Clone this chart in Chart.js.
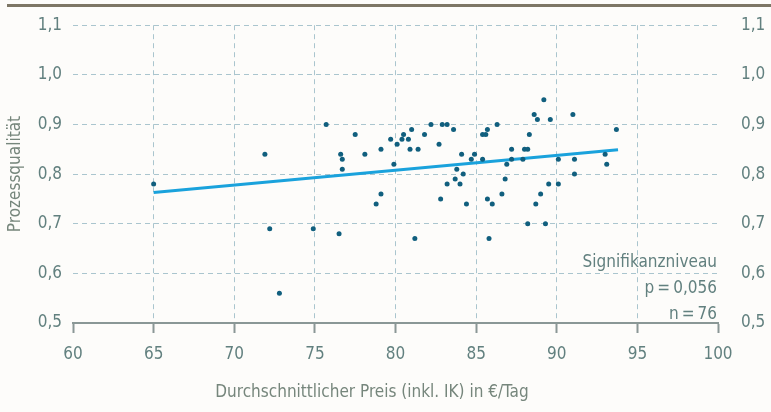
<!DOCTYPE html>
<html>
<head>
<meta charset="utf-8">
<script src="https://cdn.jsdelivr.net/npm/chart.js@4"></script>
<style>
  html, body { margin: 0; padding: 0; background: #fdfcfa; }
  #wrap { width: 771px; height: 412px; position: relative; }
</style>
</head>
<body>
<div id="wrap"><canvas id="chart" width="771" height="412"></canvas></div>
<script>
// Durchschnittlicher Preis (inkl. IK) in €/Tag
const price = [65, 71.9, 72.2, 72.8, 74.9, 75.7, 76.5, 76.6, 76.7, 76.7,
  77.5, 78.1, 78.8, 79.1, 79.1, 79.7, 79.9, 80.1, 80.4, 80.5,
  80.8, 80.9, 81.0, 81.2, 81.4, 81.8, 82.2, 82.7, 82.8, 82.9,
  83.2, 83.2, 83.6, 83.7, 83.8, 84.0, 84.1, 84.2, 84.4, 84.7,
  84.9, 85.4, 85.4, 85.6, 85.7, 85.7, 85.8, 86.0, 86.3, 86.6,
  86.8, 86.9, 87.2, 87.2, 87.9, 88.0, 88.2, 88.2, 88.3, 88.6,
  88.7, 88.8, 89.0, 89.2, 89.3, 89.5, 89.6, 90.1, 90.1, 91.0,
  91.1, 91.1, 93.0, 93.1, 93.7];

// Prozessqualität
const quality = [0.78, 0.84, 0.69, 0.56, 0.69, 0.90, 0.68, 0.84, 0.83, 0.81,
  0.88, 0.84, 0.74, 0.76, 0.85, 0.87, 0.82, 0.86, 0.87, 0.88,
  0.87, 0.85, 0.89, 0.67, 0.85, 0.88, 0.90, 0.86, 0.75, 0.90,
  0.90, 0.78, 0.89, 0.79, 0.81, 0.78, 0.84, 0.80, 0.74, 0.83,
  0.84, 0.83, 0.88, 0.88, 0.89, 0.75, 0.67, 0.74, 0.90, 0.76,
  0.79, 0.82, 0.85, 0.83, 0.83, 0.85, 0.85, 0.70, 0.88, 0.92,
  0.74, 0.91, 0.76, 0.95, 0.70, 0.78, 0.91, 0.78, 0.83, 0.92,
  0.83, 0.80, 0.84, 0.82, 0.89];

// regression line (start / end)
const trendX = [65, 93.8];
const trendY = [0.763, 0.849];

const statLines = ["Signifikanzniveau", "p\u2009=\u20090,056", "n\u2009=\u200976"];

const FONT = "'DejaVu Sans Condensed', 'Liberation Sans Narrow', sans-serif";
const tickColor = "#62807f";
const titleColor = "#76867c";
const gridColor = "#aac5ce";
const axisColor = "#8a9796";

const points = price.map((p, i) => ({ x: p, y: quality[i] }));
const trend = trendX.map((p, i) => ({ x: p, y: trendY[i] }));

const comma = (v) => v.toFixed(1).replace(".", ",");

const extras = {
  id: "extras",
  afterDraw(chart) {
    const ctx = chart.ctx;
    ctx.save();
    // top rule
    ctx.fillStyle = "#7d7665";
    ctx.fillRect(7, 4, 764, 3);

    ctx.fillStyle = titleColor;
    ctx.font = "17px " + FONT;
    ctx.textAlign = "center";
    ctx.textBaseline = "alphabetic";
    ctx.fillText("Durchschnittlicher Preis (inkl. IK) in €/Tag", 372, 397);

    ctx.fillStyle = tickColor;
    ctx.textAlign = "right";
    statLines.forEach((t, i) => {
      ctx.fillText(t, 717, 267 + i * 26);
    });
    ctx.restore();
  },
};

new Chart(document.getElementById("chart"), {
  data: {
    datasets: [
      {
        type: "line",
        data: trend,
        borderColor: "#1aa2dc",
        borderWidth: 3,
        pointRadius: 0,
        fill: false,
        order: 2,
      },
      {
        type: "scatter",
        data: points,
        backgroundColor: "#115f7e",
        borderWidth: 0,
        pointRadius: 2.5,
        order: 1,
      },
    ],
  },
  options: {
    responsive: false,
    animation: false,
    layout: { padding: { top: 21, left: 0, right: 0, bottom: 0 } },
    plugins: { legend: { display: false }, tooltip: { enabled: false } },
    scales: {
      x: {
        type: "linear",
        min: 60,
        max: 100,
        afterFit: (s) => { s.height = 89; },
        ticks: { stepSize: 5, color: tickColor, font: { family: FONT, size: 17 }, padding: 11 },
        grid: {
          color: (c) => (c.tick && (c.tick.value === 60 || c.tick.value === 100) ? "rgba(0,0,0,0)" : gridColor),
          lineWidth: 1,
          tickColor: axisColor,
          tickLength: 10,
          tickWidth: 2,
        },
        border: { display: true, color: axisColor, width: 2, dash: [5, 4] },
      },
      y: {
        position: "left",
        min: 0.5,
        max: 1.1,
        afterFit: (s) => { s.width = 73; },
        ticks: { stepSize: 0.1, color: tickColor, font: { family: FONT, size: 17 }, padding: 11, callback: comma },
        grid: {
          color: (c) => (c.tick && Math.abs(c.tick.value - 0.5) < 1e-6 ? "rgba(0,0,0,0)" : gridColor),
          drawTicks: false,
        },
        border: { display: false, dash: [5, 4] },
        title: {
          display: true,
          text: "Prozessqualität",
          color: titleColor,
          font: { family: FONT, size: 17 },
          padding: { top: 5, bottom: 0 },
        },
      },
      y2: {
        position: "right",
        min: 0.5,
        max: 1.1,
        afterFit: (s) => { s.width = 53; },
        ticks: { stepSize: 0.1, color: tickColor, font: { family: FONT, size: 17 }, padding: 15, callback: comma },
        grid: { display: false },
        border: { display: false },
      },
    },
  },
  plugins: [extras],
});
</script>
</body>
</html>
